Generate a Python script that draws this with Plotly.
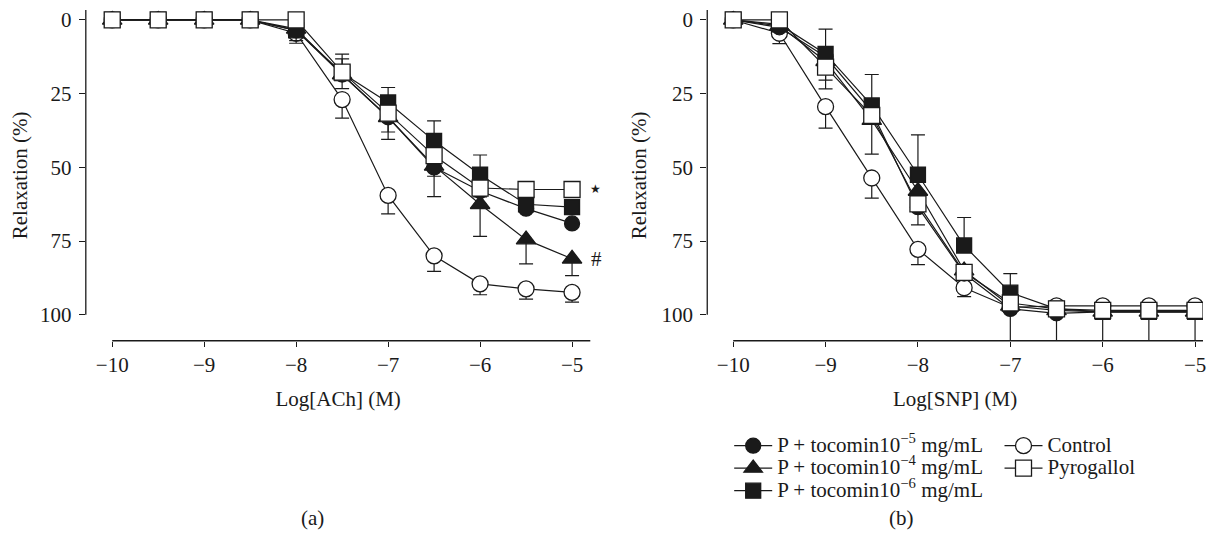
import plotly.graph_objects as go

# ---------------- data ----------------
log_conc = [-10, -9.5, -9, -8.5, -8, -7.5, -7, -6.5, -6, -5.5, -5]

# Panel (a): ACh
control_a = [0, 0, 0, 0, 4.5, 27, 59.5, 80, 89.5, 91.2, 92.4]
p5_a = [0, 0, 0, 0, 3.5, 18.5, 33, 50, 58, 64, 69]
p4_a = [0, 0, 0, 0, 3, 18.5, 33, 49.5, 62.5, 74.5, 81]
p6_a = [0, 0, 0, 0, 3.5, 18, 28, 41, 52.5, 62.5, 63.5]
pyro_a = [0, 0, 0, 0, 0, 17.7, 31.6, 46, 57, 57.5, 57.5]

# error bars (plus = towards 100, minus = towards 0)
control_a_plus = [0, 0, 0, 0, 3.4, 6.3, 6.3, 5.3, 3.7, 3.5, 3.3]
p5_a_plus = [0, 0, 0, 0, 3.5, 2, 5, 3, 2, 0, 0]
p4_a_plus = [0, 0, 0, 0, 0, 4.8, 7.5, 10.4, 10.9, 8.2, 5.7]
p6_a_minus = [0, 0, 0, 0, 0, 4.8, 5.1, 6.8, 6.7, 0, 0]
pyro_a_minus = [0, 0, 0, 0, 0, 6.1, 0, 0, 0, 0, 0]

# Panel (b): SNP
control_b = [0, 4.5, 29.4, 53.6, 77.8, 90.8, 97.5, 97, 97, 97, 97]
p5_b = [0, 2.5, 12.5, 31, 63.5, 86, 98, 99.5, 99, 99, 99]
p4_b = [0, 2, 14, 34, 58, 85, 97, 98.5, 99, 99, 99]
p6_b = [0, 1.5, 11.5, 29, 52.5, 76.5, 92.5, 98, 99, 99, 99]
pyro_b = [0, 0, 16, 32.4, 62.4, 85.6, 96, 98, 98.5, 98.5, 98.5]

control_b_plus = [0, 3.5, 7.3, 6.8, 5.2, 3, 0, 0, 0, 0, 0]
p5_b_plus = [0, 0, 0, 0, 6, 0, 15, 15, 15, 15, 15]
p4_b_plus = [0, 0, 6.4, 11.5, 0, 0, 0, 0, 0, 0, 0]
p6_b_minus = [0, 0, 8.4, 10.5, 13.5, 9.5, 6.5, 0, 0, 0, 0]
pyro_b_plus = [0, 0, 7.4, 0, 0, 0, 0, 0, 0, 0, 0]

x_ticks = [-10, -9, -8, -7, -6, -5]
y_ticks = [0, 25, 50, 75, 100]

name_p5 = "P + tocomin10<sup>−5</sup> mg/mL"
name_p4 = "P + tocomin10<sup>−4</sup> mg/mL"
name_p6 = "P + tocomin10<sup>−6</sup> mg/mL"
name_control = "Control"
name_pyro = "Pyrogallol"

# ---------------- style ----------------
INK = "#1a1a1a"
FONT = "Liberation Serif"
FS = 21
OFF = 8                      # page body margin
W, H = 1215 - 2 * OFF, 550 - 2 * OFF   # keep the page free of scrollbars


def span(t):
    return '<span style="font-size:%dpx">' % FS + t + "</span>"


def err(plus, minus):
    return dict(type="data", symmetric=False, array=plus, arrayminus=minus,
                color=INK, thickness=1.2, width=7)


zeros = [0] * len(log_conc)

series = [
    (name_control, control_a, control_b, (control_a_plus, zeros), (control_b_plus, zeros),
     "circle", "white", 16, "legend2", 1),
    (name_p4, p4_a, p4_b, (p4_a_plus, zeros), (p4_b_plus, zeros),
     "triangle-up", INK, 17, "legend", 2),
    (name_p5, p5_a, p5_b, (p5_a_plus, zeros), (p5_b_plus, zeros),
     "circle", INK, 15, "legend", 1),
    (name_p6, p6_a, p6_b, (zeros, p6_a_minus), (zeros, p6_b_minus),
     "square", INK, 15, "legend", 3),
    (name_pyro, pyro_a, pyro_b, (zeros, pyro_a_minus), (pyro_b_plus, zeros),
     "square", "white", 16, "legend2", 2),
]

fig = go.Figure()
for name, ya, yb, ea, eb, sym, fill, size, leg, rank in series:
    common = dict(
        mode="lines+markers",
        line=dict(color=INK, width=1.2),
        marker=dict(symbol=sym, size=size, color=fill, line=dict(color=INK, width=1.3)),
    )
    fig.add_trace(go.Scatter(x=log_conc, y=ya, error_y=err(*ea), xaxis="x", yaxis="y",
                             showlegend=False, **common))
    fig.add_trace(go.Scatter(x=log_conc, y=yb, error_y=err(*eb), xaxis="x2", yaxis="y2",
                             name=span(name), legend=leg, legendrank=rank,
                             showlegend=True, **common))


# window pixel geometry -> paper
def px_x(p):
    return min(1.0, max(0.0, (p - OFF) / W))


def px_y(p):
    return min(1.0, max(0.0, 1 - (p - OFF) / H))


y_range = [108.8, -3.38]
xa_range = [-10.287, -4.799]
xb_range = [-10.281, -4.914]

axis_font = dict(family=FONT, size=FS, color=INK)
xcommon = dict(showgrid=False, zeroline=False, showline=False, ticks="outside",
               ticklen=5, tickwidth=1.3, tickcolor=INK, tickvals=x_ticks,
               tickfont=axis_font, title_font=axis_font, title_standoff=15,
               ticklabeloverflow="allow")
ycommon = dict(showgrid=False, zeroline=False, showline=False, ticks="outside",
               ticklen=6, tickwidth=1.3, tickcolor=INK, tickvals=y_ticks, range=y_range,
               tickfont=axis_font, title_font=axis_font, title_standoff=9,
               ticklabelstandoff=3, ticklabeloverflow="allow")

leg_common = dict(orientation="v", xanchor="left", yanchor="top",
                  bgcolor="rgba(0,0,0,0)", font=dict(family=FONT, size=15, color=INK),
                  itemwidth=38, traceorder="normal")

fig.update_layout(
    width=W, height=H,
    margin=dict(l=0, r=0, t=0, b=0),
    paper_bgcolor="white", plot_bgcolor="white",
    font=dict(family=FONT, size=FS, color=INK),
    xaxis=dict(domain=[px_x(86), px_x(592)], range=xa_range, anchor="y",
               title_text="Log[ACh] (M)", **xcommon),
    yaxis=dict(domain=[px_y(340), px_y(8)], anchor="x",
               title_text="Relaxation (%)", **ycommon),
    xaxis2=dict(domain=[px_x(709), px_x(1206)], range=xb_range, anchor="y2",
                title_text="Log[SNP] (M)", **xcommon),
    yaxis2=dict(domain=[px_y(340), px_y(8)], anchor="x2",
                title_text="Relaxation (%)", **ycommon),
    legend=dict(x=px_x(731), y=px_y(429), **leg_common),
    legend2=dict(x=px_x(1002), y=px_y(429), **leg_common),
)

# axis lines (x line starts at -10, y spine ends at 100)
for xr, yr, x0, x1 in [("x", "y", -10, xa_range[1]), ("x2", "y2", -10, xb_range[1])]:
    fig.add_shape(type="line", xref=xr, yref=yr + " domain", x0=x0, x1=x1, y0=0, y1=0,
                  line=dict(color=INK, width=1.3))
    fig.add_shape(type="line", xref=xr + " domain", yref=yr, x0=0, x1=0,
                  y0=100, y1=y_range[1], line=dict(color=INK, width=1.3))

# significance marks
fig.add_annotation(x=log_conc[-1], y=pyro_a[-1], xref="x", yref="y", text="★",
                   showarrow=False, xshift=23, yshift=1,
                   font=dict(family="DejaVu Sans", size=12, color=INK))
fig.add_annotation(x=log_conc[-1], y=p4_a[-1], xref="x", yref="y", text="#",
                   showarrow=False, xshift=24, font=dict(family=FONT, size=FS, color=INK))

# panel labels
fig.add_annotation(x=px_x(300), y=px_y(532), xref="paper", yref="paper", text="(a)",
                   showarrow=False, font=axis_font)
fig.add_annotation(x=px_x(918), y=px_y(532), xref="paper", yref="paper", text="(b)",
                   showarrow=False, font=axis_font)

fig.write_html("out.html")
